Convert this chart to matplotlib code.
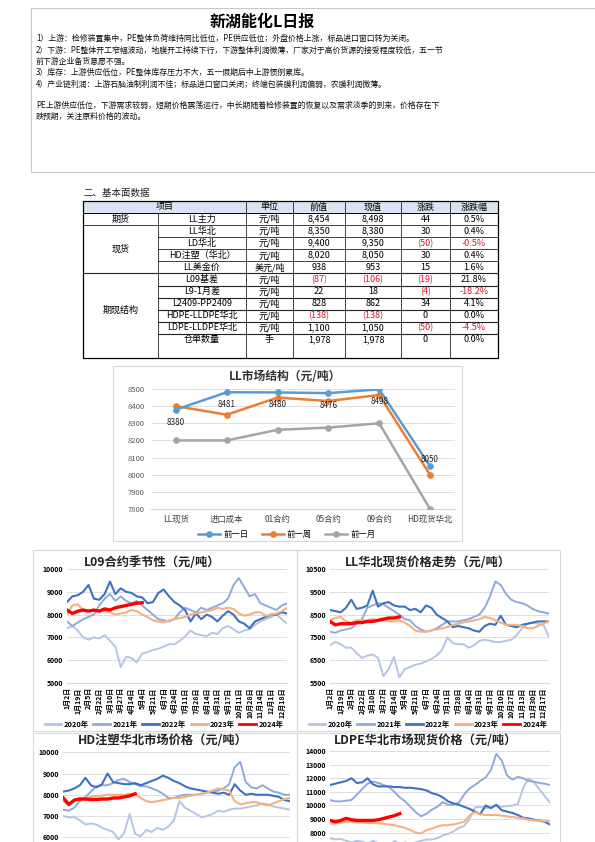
import numpy as np
import matplotlib
matplotlib.use('Agg')
import matplotlib.pyplot as plt
from matplotlib.patches import Rectangle
from matplotlib.lines import Line2D

plt.rcParams['font.family'] = ['Noto Sans CJK SC', 'DejaVu Sans']

# ---------------- data ----------------
report_title = '新湖能化L日报'
report_lines = [
    '1）上游：检修装置集中，PE整体负荷维持同比低位，PE供应低位；外盘价格上涨，标品进口窗口转为关闭。',
    '2）下游：PE整体开工窄幅波动，地膜开工持续下行，下游整体利润微薄，厂家对于高价货源的接受程度较低，五一节',
    '前下游企业备货意愿不强。',
    '3）库存：上游供应低位，PE整体库存压力不大，五一假期后中上游惯例累库。',
    '4）产业链利润：上游石脑油制利润不佳；标品进口窗口关闭；终端包装膜利润偏弱，农膜利润微薄。',
    'PE上游供应低位，下游需求较弱，短期价格震荡运行，中长期随着检修装置的恢复以及需求淡季的到来，价格存在下',
    '跌预期，关注原料价格的波动。',
]

tbl_header = ['项目', '单位', '前值', '现值', '涨跌', '涨跌幅']
tbl_groups = [('期货', 0, 1), ('现货', 1, 5), ('期现结构', 5, 11)]
tbl_items = ['LL主力', 'LL华北', 'LD华北', 'HD注塑（华北）', 'LL美金价', 'L09基差', 'L9-1月差',
             'L2409-PP2409', 'HDPE-LLDPE华北', 'LDPE-LLDPE华北', '仓单数量']
tbl_units = ['元/吨', '元/吨', '元/吨', '元/吨', '美元/吨', '元/吨', '元/吨', '元/吨', '元/吨', '元/吨', '手']
tbl_prev = ['8,454', '8,350', '9,400', '8,020', '938', '(87)', '22', '828', '(138)', '1,100', '1,978']
tbl_curr = ['8,498', '8,380', '9,350', '8,050', '953', '(106)', '18', '862', '(138)', '1,050', '1,978']
tbl_chg = ['44', '30', '(50)', '30', '15', '(19)', '(4)', '34', '0', '(50)', '0']
tbl_pct = ['0.5%', '0.4%', '-0.5%', '0.4%', '1.6%', '21.8%', '-18.2%', '4.1%', '0.0%', '-4.5%', '0.0%']

struct_cats = ['LL现货', '进口成本', '01合约', '05合约', '09合约', 'HD现货华北']
struct_prev_day = [8380, 8481, 8480, 8476, 8498, 8050]
struct_prev_week = [8400, 8350, 8450, 8430, 8465, 8000]
struct_prev_month = [8200, 8200, 8262, 8275, 8300, 7800]

years = ['2020年', '2021年', '2022年', '2023年', '2024年']
dates_a = ['1月2日', '1月19日', '2月5日', '2月22日', '3月10日', '3月27日', '4月14日', '5月4日', '5月21日',
           '6月7日', '6月24日', '7月11日', '7月28日', '8月14日', '8月31日', '9月17日', '10月11日',
           '10月28日', '11月14日', '12月1日', '12月18日']
dates_b = ['1月2日', '1月19日', '2月5日', '2月22日', '3月10日', '3月27日', '4月14日', '5月4日', '5月21日',
           '6月7日', '6月24日', '7月11日', '7月28日', '8月14日', '8月31日', '9月17日', '10月10日',
           '10月27日', '11月13日', '11月30日', '12月17日']

L09_2020 = [7400, 7500, 7300, 7000, 6900, 7000, 6950, 7100, 6850, 6600, 5700, 6150, 6100, 5900, 6300, 6350,
            6450, 6500, 6600, 6700, 6700, 6850, 7050, 7300, 7150, 7100, 7050, 7200, 7150, 7400, 7500, 7350,
            7200, 7300, 7350, 7550, 7700, 7800, 7900, 8000, 7800, 7600]
L09_2021 = [7700, 7500, 7650, 7800, 7900, 8000, 8400, 8700, 8900, 8600, 8800, 8600, 8500, 8600, 8400, 8200,
            8000, 7800, 7750, 7700, 7800, 8100, 8300, 8200, 8100, 8300, 8200, 8300, 8400, 8500, 8700, 9300,
            9600, 9200, 8800, 8900, 8500, 8400, 8300, 8200, 8400, 8500]
L09_2022 = [8550, 8800, 8850, 9000, 9300, 8700, 8650, 8900, 9450, 8900, 9150, 9000, 8950, 8800, 8750, 8500,
            8550, 8950, 9100, 8800, 8550, 8400, 8200, 7700, 8050, 7800, 8000, 7900, 7700, 7950, 8150, 8000,
            7700, 7600, 7400, 7700, 7800, 7900, 8000, 8000, 8100, 8050]
L09_2023 = [8000, 8400, 8450, 8200, 8200, 8150, 8200, 8150, 8100, 8000, 8050, 8100, 8200, 8150, 8000, 7900,
            7750, 7700, 7650, 7750, 7800, 7850, 7900, 8000, 8050, 8100, 8150, 8200, 8300, 8250, 8300, 8250,
            8050, 7950, 8000, 8100, 8100, 7950, 8000, 8050, 8150, 8300]
L09_2024 = [8200, 8050, 8150, 8200, 8150, 8200, 8150, 8250, 8200, 8300, 8350, 8400, 8450, 8500, 8520]

LLHB_2020 = [7150, 7300, 7200, 7050, 7050, 6800, 6600, 6700, 6750, 6600, 5800, 6100, 6650, 5750, 6100, 6200,
             6300, 6350, 6450, 6550, 6700, 6950, 7500, 7250, 7200, 7200, 7050, 7150, 7350, 7400, 7350, 7300,
             7300, 7350, 7400, 7600, 7900, 8100, 8150, 8100, 8050, 7550]
LLHB_2021 = [7750, 7700, 7800, 7850, 7900, 8100, 8300, 8800, 8900, 9000, 8950, 8800, 8650, 8500, 8300, 8250,
             8000, 7850, 7750, 7800, 7900, 8050, 8200, 8200, 8200, 8250, 8300, 8400, 8500, 8800, 9300, 9950,
             9800, 9400, 9150, 9050, 9000, 8900, 8750, 8650, 8600, 8550]
LLHB_2022 = [8700, 8650, 8600, 8800, 9150, 8750, 8800, 8900, 9550, 8850, 9000, 9050, 8900, 8850, 8850, 8700,
             8750, 8600, 8900, 8800, 8500, 8350, 8200, 7950, 8000, 7950, 7900, 7800, 7750, 8000, 8100, 8050,
             8450, 8050, 8000, 7950, 8050, 8100, 8150, 8200, 8200, 8200]
LLHB_2023 = [8250, 8350, 8400, 8200, 8150, 8250, 8250, 8250, 8300, 8250, 8250, 8200, 8200, 8250, 8150, 8000,
             7800, 7750, 7750, 7800, 7850, 7900, 7950, 8050, 8100, 8150, 8200, 8250, 8300, 8400, 8350, 8250,
             8150, 8050, 8050, 8050, 8000, 7900, 7900, 8000, 8100, 8200]
LLHB_2024 = [8200, 8050, 8100, 8100, 8100, 8150, 8150, 8200, 8200, 8250, 8300, 8350, 8350, 8400]

HD_2020 = [7000, 6950, 6950, 6800, 6600, 6650, 6600, 6450, 6350, 6250, 5900, 6200, 7100, 6150, 6050, 6350,
           6250, 6450, 6350, 6500, 6800, 7700, 7400, 7250, 7100, 6950, 7000, 7100, 7250, 7200, 7300, 7350,
           7350, 7400, 7450, 7500, 7600, 7550, 7450, 7400, 7350, 7300]
HD_2021 = [7300, 7250, 7400, 7700, 7900, 8150, 8400, 8450, 8450, 8550, 8700, 8750, 8600, 8500, 8400, 8400,
           8300, 8200, 8050, 7850, 7850, 7950, 8000, 8000, 8000, 8050, 8100, 8150, 8200, 8300, 8500, 9300,
           9550, 8600, 8350, 8300, 8450, 8300, 8150, 8100, 8000, 8000]
HD_2022 = [8150, 8200, 8300, 8450, 8800, 8450, 8350, 8500, 9000, 8600, 8550, 8500, 8500, 8550, 8450, 8550,
           8650, 8750, 8900, 8800, 8650, 8550, 8400, 8300, 8250, 8200, 8150, 8100, 8050, 8100, 8000, 8500,
           8200, 8000, 8050, 8000, 8000, 8000, 7950, 7900, 7750, 7700]
HD_2023 = [7700, 7500, 7750, 7850, 7850, 7900, 7950, 7950, 8000, 8000, 8000, 8000, 8050, 8000, 7850, 7700,
           7650, 7700, 7750, 7800, 7850, 7850, 7900, 7950, 8000, 8050, 8100, 8200, 8300, 8250, 8200, 7700,
           7550, 7600, 7650, 7650, 7550, 7500, 7600, 7700, 7800, 7850]
HD_2024 = [7850, 7550, 7750, 7800, 7800, 7780, 7780, 7800, 7800, 7850, 7850, 7900, 7950, 8050]

LDPE_2020 = [7600, 7500, 7550, 7400, 7300, 7400, 7350, 7200, 7400, 7200, 7100, 7000, 7400, 7100, 7300, 7200,
             7300, 7400, 7500, 7500, 7600, 7800, 7900, 8100, 8350, 8500, 9000, 9850, 9900, 9800, 9900, 10000,
             9900, 9950, 10000, 10100, 11300, 12000, 11700, 11200, 10700, 10200]
LDPE_2021 = [10400, 10300, 10300, 10350, 10400, 10800, 11200, 11600, 11750, 11650, 11500, 11350, 11000, 10600,
             10300, 9900, 9500, 9200, 9400, 9700, 9900, 10250, 10050, 10050, 10200, 10800, 11250, 11500, 11800,
             12050, 12600, 13800, 13300, 12200, 11900, 12100, 12000, 11800, 11750, 11650, 11600, 11500]
LDPE_2022 = [11500, 11600, 11700, 11800, 12000, 11650, 11700, 12000, 11550, 11400, 11400, 11400, 11350, 11350,
             11300, 11300, 11250, 11200, 11100, 10900, 10800, 10600, 10300, 10150, 10050, 9900, 9750, 9550,
             9350, 10000, 9800, 10050, 9650, 9550, 9450, 9300, 9100, 9050, 8950, 8900, 8800, 8600]
LDPE_2023 = [8650, 8700, 8750, 8800, 8800, 8750, 8750, 8700, 8700, 8700, 8650, 8600, 8550, 8450, 8350, 8200,
             8000, 7950, 8200, 8300, 8450, 8550, 8550, 8600, 8700, 8800, 9250, 9500, 9350, 9300, 9300, 9300,
             9250, 9200, 9150, 9100, 9050, 8950, 8900, 8900, 8850, 8850]
LDPE_2024 = [8900, 8800, 8900, 9050, 8950, 8900, 8900, 8900, 8900, 8950, 9050, 9150, 9250, 9400]

year_colors = ['#b4c5e6', '#8eaadb', '#4070c2', '#f4b183', '#ff0000']
year_widths = [1.4, 1.4, 1.5, 1.5, 2.4]

# ---------------- figure ----------------
W, H = 595, 842
fig = plt.figure(figsize=(W / 100, H / 100), dpi=100)
fig.patch.set_facecolor('white')


def px_axes(x0, y0, x1, y1):
    return fig.add_axes([x0 / W, 1 - y1 / H, (x1 - x0) / W, (y1 - y0) / H])


bg = fig.add_axes([0, 0, 1, 1])
bg.set_xlim(0, W)
bg.set_ylim(H, 0)
bg.axis('off')

# ---- top text box ----
bg.add_patch(Rectangle((31, 7.5), 600, 164, fill=False, ec='#c8c8c8', lw=0.8))
bg.text(262, 21.5, report_title, fontsize=11.5, fontweight='bold', ha='center', va='center')
line_y = [38.3, 50.5, 61.5, 72.7, 84.2, 105.5, 116.7]
for t, y in zip(report_lines, line_y):
    bg.text(36, y, t, fontsize=5.7, ha='left', va='center', color='#111111')

# ---- table ----
bg.text(84, 193.5, '二、基本面数据', fontsize=6.8, ha='left', va='center', color='#222222')
cols = [83, 158, 246, 293, 345, 401, 450, 498]
ty0, hh = 201, 12.0
rh = (358 - 213) / 12.0
bg.add_patch(Rectangle((cols[0], ty0), cols[-1] - cols[0], hh, fc='#dae3f3', ec='none'))
bg.text((cols[0] + cols[2]) / 2, ty0 + hh / 2, tbl_header[0], fontsize=6.5, ha='center', va='center')
for j in range(1, 6):
    bg.text((cols[j + 1] + cols[j + 2]) / 2, ty0 + hh / 2, tbl_header[j], fontsize=6.5, ha='center', va='center')
rtop = ty0 + hh
red = '#e8102a'
for k in range(len(tbl_items)):
    yc = rtop + (k + 0.5) * rh
    vals = [tbl_items[k], tbl_units[k], tbl_prev[k], tbl_curr[k], tbl_chg[k], tbl_pct[k]]
    for j, v in enumerate(vals):
        c = 'black'
        if j >= 2 and (v.startswith('(') or v.startswith('-')):
            c = red
        bg.text((cols[j + 1] + cols[j + 2]) / 2, yc, v, fontsize=6.5, ha='center', va='center', color=c)
for name, a, b in tbl_groups:
    bg.text((cols[0] + cols[1]) / 2, rtop + (a + b) / 2 * rh, name, fontsize=6.5, ha='center', va='center')
# borders
bg.add_patch(Rectangle((cols[0], ty0), cols[-1] - cols[0], 358 - ty0, fill=False, ec='black', lw=0.9))
bg.plot([cols[0], cols[-1]], [rtop, rtop], color='black', lw=0.7)
group_edges = [b for _, a, b in tbl_groups][:-1]
for k in range(1, len(tbl_items)):
    y = rtop + k * rh
    x0 = cols[0] if k in group_edges else cols[1]
    bg.plot([x0, cols[-1]], [y, y], color='#222222', lw=0.6 if k < 5 else 0.8)
for j, x in enumerate(cols[1:-1], start=1):
    y0 = rtop if j == 1 else ty0
    bg.plot([x, x], [y0, 358], color='#222222', lw=0.6)

# ---- LL market structure chart ----
bg.add_patch(Rectangle((113, 366), 349, 175, fill=False, ec='#d9d9d9', lw=0.8))
bg.text(285, 376.5, 'LL市场结构（元/吨）', fontsize=8.5, fontweight='bold', ha='center', va='center',
        color='#333333')
ax = px_axes(150.6, 389, 455.4, 509)
xs = np.arange(len(struct_cats))
c_day, c_week, c_month = '#5b9bd5', '#ed7d31', '#a5a5a5'
ax.plot(xs, struct_prev_month, color=c_month, lw=1.8, marker='o', ms=3.8, label='前一月', zorder=3)
ax.plot(xs, struct_prev_week, color=c_week, lw=1.8, marker='o', ms=3.8, label='前一周', zorder=4)
ax.plot(xs, struct_prev_day, color=c_day, lw=1.8, marker='o', ms=3.8, label='前一日', zorder=5)
for i, v in enumerate(struct_prev_day):
    off = -9 if i < len(struct_prev_day) - 1 else 5
    ax.annotate(str(v), (xs[i], v), xytext=(0, off), textcoords='offset points', ha='center', va='center',
                fontsize=5.8, color='#222222', zorder=6)
ax.set_xlim(-0.5, len(struct_cats) - 0.5)
ax.set_ylim(7800, 8500)
ax.set_yticks(np.arange(7800, 8501, 100))
ax.yaxis.grid(True, color='#d9d9d9', lw=0.6)
ax.set_axisbelow(True)
for s in ['left', 'right', 'top']:
    ax.spines[s].set_visible(False)
ax.spines['bottom'].set_color('#d9d9d9')
ax.tick_params(axis='y', length=0, labelsize=5.5, labelcolor='#595959', pad=4)
ax.set_xticks(xs)
ax.set_xticklabels(struct_cats)
ax.tick_params(axis='x', length=0, labelsize=6, labelcolor='#404040', pad=4)
ax.patch.set_alpha(0)
h = [Line2D([], [], color=c, lw=1.8, marker='o', ms=3.8) for c in (c_day, c_week, c_month)]
fig.legend(h, ['前一日', '前一周', '前一月'], loc='center', bbox_to_anchor=(287 / W, 1 - 534.5 / H),
           bbox_transform=fig.transFigure, ncol=3, fontsize=6, frameon=False, handlelength=2.6,
           columnspacing=1.6, handletextpad=0.4)


# ---- seasonal panels ----
def seasonal(box, rect, ylim, yticks, series, title, title_xy, xlabels=None, legend_xy=None):
    bx0, by0, bx1, by1 = box
    bg.add_patch(Rectangle((bx0, by0), bx1 - bx0, by1 - by0, fill=False, ec='#d9d9d9', lw=0.8))
    bg.text(title_xy[0], title_xy[1], title, fontsize=8.8, fontweight='bold', ha='center', va='center',
            color='#222222')
    a = px_axes(*rect)
    for vals, col, lw in zip(series, year_colors, year_widths):
        a.plot(np.arange(len(vals)), vals, color=col, lw=lw, solid_joinstyle='round')
    a.set_xlim(0, 41)
    a.set_ylim(*ylim)
    a.set_yticks(yticks)
    a.yaxis.grid(True, color='#d9d9d9', lw=0.6)
    a.set_axisbelow(True)
    for s in ['left', 'right', 'top']:
        a.spines[s].set_visible(False)
    a.tick_params(axis='y', length=0, labelsize=5, pad=3)
    for lab in a.get_yticklabels():
        lab.set_fontweight('bold')
    a.patch.set_alpha(0)
    if xlabels is not None:
        a.spines['bottom'].set_color('#d9d9d9')
        a.set_xticks(np.arange(0, 2 * len(xlabels), 2))
        a.set_xticklabels(xlabels, rotation=90, fontsize=5, fontweight='bold')
        a.tick_params(axis='x', length=0, pad=3)
        hs = [Line2D([], [], color=c, lw=2.0) for c in year_colors]
        fig.legend(hs, years, loc='center', bbox_to_anchor=(legend_xy[0] / W, 1 - legend_xy[1] / H),
                   bbox_transform=fig.transFigure, ncol=5, frameon=False, handlelength=2.3,
                   columnspacing=0.6, handletextpad=0.3, borderpad=0.1,
                   prop={'size': 5.3, 'weight': 'bold'})
    else:
        a.spines['bottom'].set_visible(False)
        a.set_xticks([])
    return a


seasonal((33, 550, 297, 731), (67, 569, 287.2, 683), (5000, 10000), np.arange(5000, 10001, 1000),
         [L09_2020, L09_2021, L09_2022, L09_2023, L09_2024], 'L09合约季节性（元/吨）', (152, 562),
         dates_a, (164, 724))
seasonal((297, 550, 560, 731), (330, 569, 548.7, 683), (5500, 10500), np.arange(5500, 10501, 1000),
         [LLHB_2020, LLHB_2021, LLHB_2022, LLHB_2023, LLHB_2024], 'LL华北现货价格走势（元/吨）', (428, 562),
         dates_b, (428, 724))
seasonal((33, 733, 297, 845), (63.3, 752.3, 290, 842), (5779, 10000), np.arange(6000, 10001, 1000),
         [HD_2020, HD_2021, HD_2022, HD_2023, HD_2024], 'HD注塑华北市场价格（元/吨）', (163, 741))
seasonal((297, 733, 560, 845), (330, 751, 550, 842), (7317, 14000), np.arange(8000, 14001, 1000),
         [LDPE_2020, LDPE_2021, LDPE_2022, LDPE_2023, LDPE_2024], 'LDPE华北市场现货价格（元/吨）', (426, 741))

fig.savefig('out.png', dpi=100, facecolor='white')
